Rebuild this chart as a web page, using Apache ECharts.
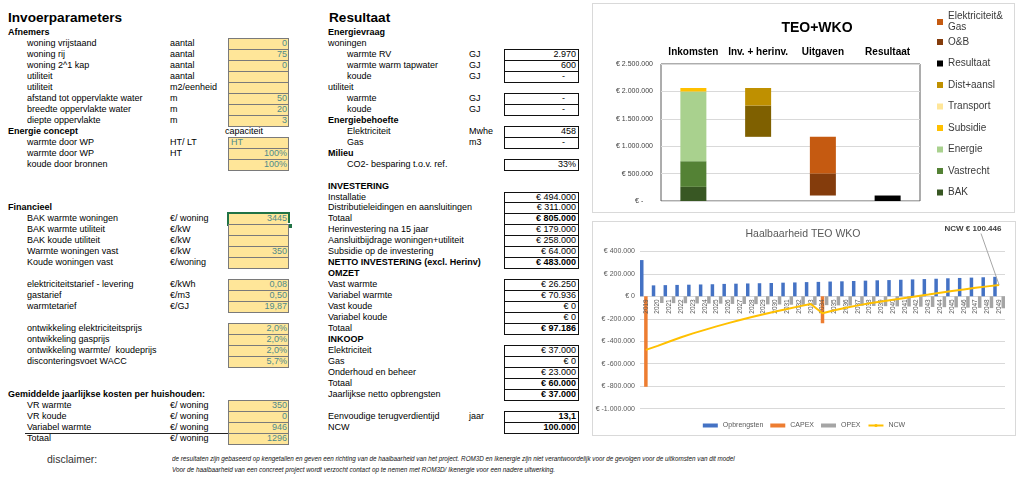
<!DOCTYPE html>
<html><head><meta charset="utf-8">
<script src="https://cdn.jsdelivr.net/npm/echarts@6/dist/echarts.min.js"></script>
<style>
html,body{margin:0;padding:0;background:#fff;}
body{width:1023px;height:488px;overflow:hidden;position:relative;font-family:'Liberation Sans',Arial,sans-serif;color:#000;}
.t{position:absolute;white-space:pre;font-size:9px;line-height:11px;height:11px;}
.b{font-weight:bold}
.box{position:absolute;box-sizing:border-box;border:1px solid #7a7a7a;}
.in{background:#FFE699;}
.res{background:#fff;border-color:#111;}
.v{position:absolute;white-space:pre;font-size:9px;line-height:11px;height:11px;text-align:right;}
.panel{position:absolute;box-sizing:border-box;border:1px solid #D9D9D9;background:#fff;}
.disc{position:absolute;white-space:pre;font-style:italic;font-size:7px;line-height:8px;height:8px;transform-origin:0 50%;color:#111;}
</style></head>
<body>
<div class="panel" style="left:592px;top:3px;width:423px;height:210px;"></div>
<div id="topChart" style="position:absolute;left:593px;top:4px;width:421px;height:208px;"></div>
<div class="panel" style="left:592px;top:221px;width:424px;height:215px;"></div>
<div id="botChart" style="position:absolute;left:593px;top:222px;width:422px;height:213px;"></div>
<script>
// ---------- Chart 1: TEO+WKO ----------
const topCats = ['Inkomsten', 'Inv. + herinv.', 'Uitgaven', 'Resultaat'];
const bak         = [258000, 0, 0, 0];
const vastrecht   = [468000, 0, 0, 0];
const energie     = [1272000, 0, 0, 0];
const subsidie    = [64000, 0, 0, 0];
const transport   = [0, 0, 0, 0];
const installatie = [0, 571000, 0, 0];
const distAansl   = [0, 320000, 0, 0];
const oenb        = [0, 0, 404000, 0];
const elekGas     = [0, 0, 667000, 0];
const resultaat   = [0, 0, 0, 100000];
const topTicks = [0, 500000, 1000000, 1500000, 2000000, 2500000];

// ---------- Chart 2: Haalbaarheid TEO WKO ----------
const years = ['2019','2020','2021','2022','2023','2024','2025','2026','2027','2028','2029','2030','2031','2032','2033','2034','2035','2036','2037','2038','2039','2040','2041','2042','2043','2044','2045','2046','2047','2048','2049'];
const opbrengsten = [322000, 97000, 99000, 101000, 103000, 105000, 107000, 110000, 112000, 114000, 116000, 118000, 121000, 123000, 126000, 128000, 131000, 133000, 136000, 139000, 142000, 144000, 147000, 150000, 153000, 156000, 160000, 163000, 166000, 169000, 173000];
const capex = [-805000, 0, 0, 0, 0, 0, 0, 0, 0, 0, 0, 0, 0, 0, 0, -240000, 0, 0, 0, 0, 0, 0, 0, 0, 0, 0, 0, 0, 0, 0, 0];
const opex = [0, -60000, -61000, -62000, -64000, -65000, -66000, -68000, -69000, -70000, -72000, -73000, -75000, -76000, -78000, -79000, -81000, -83000, -84000, -86000, -88000, -90000, -91000, -93000, -95000, -97000, -99000, -101000, -103000, -105000, -107000];
const ncw = [-477000, -441000, -402000, -364000, -330000, -299000, -268000, -239000, -211000, -185000, -160000, -136000, -113000, -90000, -68000, -151000, -125000, -102000, -81000, -63000, -46000, -30000, -15000, 0, 15000, 31000, 46000, 61000, 75000, 88000, 100446];
const botTicks = [-1000000, 400000, 200000]; // min, max, step

function dots(n){ return Math.round(Math.abs(n)).toString().replace(/\B(?=(\d{3})+(?!\d))/g, '.'); }
function euro(v){ return '€ ' + (v < 0 ? '-' : '') + dots(v); }

// ---------- spreadsheet text ----------
const ROW0 = 32.3, RH = 10.98;
function yc(r){ return ROW0 + RH * r; }
function addText(x, y, s, cls, style){
  const d = document.createElement('div');
  d.className = cls || 't';
  d.textContent = s;
  d.style.left = x + 'px';
  d.style.top = (y - 5.5) + 'px';
  if (style) Object.assign(d.style, style);
  document.body.appendChild(d);
  return d;
}
function addBox(x, w, r, cls, extra){
  const d = document.createElement('div');
  d.className = 'box ' + cls;
  d.style.left = x + 'px';
  d.style.width = w + 'px';
  d.style.top = (yc(r) - 5.5) + 'px';
  d.style.height = (RH + 1) + 'px';
  if (extra) Object.assign(d.style, extra);
  document.body.appendChild(d);
  return d;
}
function addVal(xRight, r, s, style){
  const d = document.createElement('div');
  d.className = 'v';
  d.textContent = s;
  d.style.right = (1023 - xRight) + 'px';
  d.style.top = (yc(r) - 5.5) + 'px';
  if (style) Object.assign(d.style, style);
  document.body.appendChild(d);
  return d;
}

addText(8, 18, 'Invoerparameters', 't b', {fontSize:'13.6px', lineHeight:'16px', height:'16px', top:'10px'});
addText(329, 18, 'Resultaat', 't b', {fontSize:'13.6px', lineHeight:'16px', height:'16px', top:'10px'});

const leftRows = [
  [0,'Afnemers','',null,'h'],
  [1,'woning vrijstaand','aantal','0'],
  [2,'woning rij','aantal','75'],
  [3,'woning 2^1 kap','aantal','0'],
  [4,'utiliteit','aantal',''],
  [5,'utiliteit','m2/eenheid',''],
  [6,'afstand tot oppervlakte water','m','50'],
  [7,'breedte oppervlakte water','m','20'],
  [8,'diepte oppervlakte','m','3'],
  [9,'Energie concept','',null,'h'],
  [10,'warmte door WP','HT/ LT','HT','left'],
  [11,'warmte door WP','HT','100%'],
  [12,'koude door bronnen','','100%'],
  [16,'Financieel','',null,'h'],
  [17,'BAK warmte woningen','€/ woning','3445','sel'],
  [18,'BAK warmte utiliteit','€/kW',''],
  [19,'BAK koude utiliteit','€/kW',''],
  [20,'Warmte woningen vast','€/kW','350'],
  [21,'Koude woningen vast','€/woning',''],
  [23,'elektriciteitstarief - levering','€/kWh','0,08'],
  [24,'gastarief','€/m3','0,50'],
  [25,'warmtetarief','€/GJ','19,87'],
  [27,'ontwikkeling elektriciteitsprijs','','2,0%'],
  [28,'ontwikkeling gasprijs','','2,0%'],
  [29,'ontwikkeling warmte/  koudeprijs','','2,0%'],
  [30,'disconteringsvoet WACC','','5,7%'],
  [33,'Gemiddelde jaarlijkse kosten per huishouden:','',null,'h'],
  [34,'VR warmte','€/ woning','350'],
  [35,'VR koude','€/ woning','0'],
  [36,'Variabel warmte','€/ woning','946'],
  [37,'Totaal','€/ woning','1296']
];
const inCol = '#4F8A8B';
leftRows.forEach(([r, label, unit, val, opt]) => {
  const y = yc(r);
  if (opt === 'h') { addText(8, y, label, 't b'); return; }
  addText(27, y, label);
  if (unit) addText(170, y, unit);
  if (val !== null) {
    addBox(228, 61, r, 'in');
    if (opt === 'left') addText(231, y, val, 't', {color: inCol});
    else if (val !== '') addVal(287, r, val, {color: inCol});
  }
  if (opt === 'sel') {
    addBox(227, 63, r, '', {border:'2px solid #217346', background:'transparent', height:(RH+3)+'px', top:(yc(r)-6.5)+'px'});
    const h = document.createElement('div');
    Object.assign(h.style, {position:'absolute', left:'287px', top:(yc(r)+4.5)+'px', width:'4px', height:'4px', background:'#217346', border:'1px solid #fff'});
    document.body.appendChild(h);
  }
});
addText(225, yc(9), 'capaciteit');
// underline above "Totaal"
(function(){ const l = document.createElement('div'); Object.assign(l.style,{position:'absolute',left:'25px',width:'203px',top:(yc(36.5)-0.5)+'px',height:'1px',background:'#222'}); document.body.appendChild(l); })();

const midRows = [
  [0,'Energievraag','',null,'h'],
  [1,'woningen','',null,'n'],
  [2,'warmte RV','GJ','2.970','i'],
  [3,'warmte warm tapwater','GJ','600','i'],
  [4,'koude','GJ','-','i'],
  [5,'utiliteit','',null,'n'],
  [6,'warmte','GJ','-','i'],
  [7,'koude','GJ','-','i'],
  [8,'Energiebehoefte','',null,'h'],
  [9,'Elektriciteit','Mwhe','458','i'],
  [10,'Gas','m3','-','i'],
  [11,'Milieu','',null,'h'],
  [12,'CO2- besparing t.o.v. ref.','','33%','i'],
  [14,'INVESTERING','',null,'h'],
  [15,'Installatie','','€ 494.000','n'],
  [16,'Distributieleidingen en aansluitingen','','€ 311.000','n'],
  [17,'Totaal','','€ 805.000','nb'],
  [18,'Herinvestering na 15 jaar','','€ 179.000','n'],
  [19,'Aansluitbijdrage woningen+utiliteit','','€ 258.000','n'],
  [20,'Subsidie op de investering','','€ 64.000','n'],
  [21,'NETTO INVESTERING (excl. Herinv)','','€ 483.000','hb'],
  [22,'OMZET','',null,'h'],
  [23,'Vast warmte','','€ 26.250','n'],
  [24,'Variabel warmte','','€ 70.936','n'],
  [25,'Vast koude','','€ 0','n'],
  [26,'Variabel koude','','€ 0','n'],
  [27,'Totaal','','€ 97.186','nb'],
  [28,'INKOOP','',null,'h'],
  [29,'Elektriciteit','','€ 37.000','n'],
  [30,'Gas','','€ 0','n'],
  [31,'Onderhoud en beheer','','€ 23.000','n'],
  [32,'Totaal','','€ 60.000','nb'],
  [33,'Jaarlijkse netto opbrengsten','','€ 37.000','nb'],
  [35,'Eenvoudige terugverdientijd','jaar','13,1','nb'],
  [36,'NCW','','100.000','nb']
];
midRows.forEach(([r, label, unit, val, opt]) => {
  const y = yc(r);
  if (opt === 'h') { addText(328, y, label, 't b'); return; }
  const x = (opt === 'i') ? 347 : 328;
  addText(x, y, label, opt === 'hb' ? 't b' : 't');
  if (unit) addText(469, y, unit);
  if (val !== null) {
    addBox(504, 75, r, 'res');
    const bold = (opt === 'nb' || opt === 'hb');
    if (val === '-') addVal(565, r, '-');
    else addVal(576, r, val, bold ? {fontWeight:'bold'} : null);
  }
});

addText(47, 459, 'disclaimer:', 't', {fontSize:'10.5px', lineHeight:'12px', height:'12px', top:'453px', color:'#333'});
const d1 = addText(172, 459, 'de resultaten zijn gebaseerd op kengetallen en geven een richting van de haalbaarheid van het project. ROM3D en Ikenergie zijn niet verantwoordelijk voor de gevolgen voor de uitkomsten van dit model', 'disc', {top:'455px'});
const d2 = addText(172, 469.5, 'Voor de haalbaarheid van een concreet project wordt verzocht contact op te nemen met ROM3D/ Ikenergie voor een nadere uitwerking.', 'disc', {top:'465.5px'});
d1.style.transform = 'scaleX(' + (563 / d1.offsetWidth) + ')';
d2.style.transform = 'scaleX(' + (383 / d2.offsetWidth) + ')';

// ---------- build chart 1 ----------
const incomeTotal = bak[0] + vastrecht[0] + energie[0] + subsidie[0] + transport[0];
const invBase = incomeTotal - installatie[1] - distAansl[1];
const uitBase = invBase - oenb[2] - elekGas[2];
const base = [0, invBase, uitBase, 0];

const topChart = echarts.init(document.getElementById('topChart'));
function bar(name, data, color){
  return {name, type:'bar', stack:'w', data, barWidth:26, itemStyle:{color}, emphasis:{disabled:true}};
}
topChart.setOption({
  animation:false,
  title:{text:'TEO+WKO', left:224, textAlign:'center', top:17, padding:0,
    textStyle:{fontSize:14, fontWeight:'bold', color:'#000', fontFamily:'Liberation Sans'}},
  grid:{left:68, right:94, top:60, bottom:11, show:true, borderColor:'#5a5a5a', borderWidth:1, backgroundColor:'transparent', outerBoundsMode:'none'},
  legend:[
    {orient:'vertical', left:344, top:7, padding:0, icon:'rect', itemWidth:6, itemHeight:6,
     data:['Elektriciteit& Gas'], formatter:()=> 'Elektriciteit&\nGas',
     textStyle:{fontSize:10, color:'#3a3a3a', lineHeight:11, fontFamily:'Liberation Sans'}, selectedMode:false},
    {orient:'vertical', left:344, top:32, padding:0, icon:'rect', itemWidth:6, itemHeight:6, itemGap:9.5,
     data:['O&B','Resultaat','Dist+aansl','Transport','Subsidie','Energie','Vastrecht','BAK'],
     textStyle:{fontSize:10, color:'#3a3a3a', lineHeight:12, fontFamily:'Liberation Sans'}, selectedMode:false}
  ],
  xAxis:{type:'category', data:topCats, position:'top', axisLine:{show:false}, axisTick:{show:false},
    axisLabel:{fontSize:10, fontWeight:'bold', color:'#000', margin:7, interval:0, fontFamily:'Liberation Sans'}},
  yAxis:{type:'value', min:topTicks[0], max:topTicks[topTicks.length-1], interval:topTicks[1]-topTicks[0],
    axisLine:{show:false}, axisTick:{show:false},
    splitLine:{lineStyle:{color:'#D9D9D9', width:1}},
    axisLabel:{fontSize:7, color:'#404040', margin:8, fontFamily:'Liberation Sans',
      formatter:v => v === 0 ? '€ -     ' : euro(v)}},
  series:[
    {name:'base', type:'bar', stack:'w', data:base, barWidth:26, itemStyle:{color:'rgba(0,0,0,0)'}, silent:true},
    bar('BAK', bak, '#385723'),
    bar('Vastrecht', vastrecht, '#548235'),
    bar('Energie', energie, '#A9D18E'),
    bar('Subsidie', subsidie, '#FFC000'),
    bar('Transport', transport, '#FFE699'),
    bar('Installatie', installatie, '#7F6000'),
    bar('Dist+aansl', distAansl, '#BF9000'),
    bar('O&B', oenb, '#843C0C'),
    bar('Elektriciteit& Gas', elekGas, '#C55A11'),
    bar('Resultaat', resultaat, '#000000')
  ]
});

// ---------- build chart 2 ----------
const botChart = echarts.init(document.getElementById('botChart'));
const GRID_BOTTOM = 26.3;
botChart.setOption({
  animation:false,
  title:{text:'Haalbaarheid TEO WKO', left:210, textAlign:'center', top:7, padding:0,
    textStyle:{fontSize:10.5, fontWeight:'normal', color:'#595959', fontFamily:'Liberation Sans'}},
  grid:{left:47, right:10, top:29.3, bottom:GRID_BOTTOM, outerBoundsMode:'none'},
  legend:{bottom:6, left:'center', padding:0, itemGap:7, itemWidth:15, itemHeight:4,
    data:[{name:'Opbrengsten', icon:'rect'},{name:'CAPEX', icon:'rect'},{name:'OPEX', icon:'rect'},{name:'NCW'}],
    textStyle:{fontSize:7, color:'#595959', fontFamily:'Liberation Sans'}, selectedMode:false},
  xAxis:{type:'category', data:years, z:4,
    axisLine:{show:false, onZero:false}, axisTick:{show:false},
    axisLabel:{rotate:90, fontSize:6.5, color:'#595959', margin:3, interval:0, fontFamily:'Liberation Sans'}},
  yAxis:{type:'value', min:botTicks[0], max:botTicks[1], interval:botTicks[2],
    axisLine:{show:false}, axisTick:{show:false},
    splitLine:{lineStyle:{color:'#D9D9D9', width:1}},
    axisLabel:{fontSize:7, color:'#595959', margin:5, fontFamily:'Liberation Sans',
      formatter:v => v === 0 ? '€ 0' : euro(v)}},
  series:[
    {name:'Opbrengsten', type:'bar', data:opbrengsten, barWidth:3.5, barGap:'18%', itemStyle:{color:'#4472C4'}},
    {name:'CAPEX', type:'bar', data:capex, barWidth:3.5, barGap:'18%', itemStyle:{color:'#ED7D31'}},
    {name:'OPEX', type:'bar', data:opex, barWidth:3.5, barGap:'18%', itemStyle:{color:'#A5A5A5'}},
    {name:'NCW', type:'line', data:ncw, symbol:'none', z:5, lineStyle:{color:'#FFC000', width:2}, itemStyle:{color:'#FFC000'}}
  ]
});
// move the category labels onto the zero line of the value scale
(function(){
  const y0 = botChart.convertToPixel({yAxisIndex:0}, 0);
  const gridBottomY = botChart.getHeight() - GRID_BOTTOM;
  botChart.setOption({xAxis:{offset: y0 - gridBottomY}});
  // NCW data label with leader line, anchored to the last NCW point via the chart's scales
  const last = ncw.length - 1;
  const pt = botChart.convertToPixel({xAxisIndex:0, yAxisIndex:0}, [years[last], ncw[last]]);
  const lx = 380, ly = 6.5;
  botChart.setOption({graphic:[
    {type:'line', shape:{x1:lx + 8, y1:ly + 5, x2:pt[0], y2:pt[1]}, style:{stroke:'#A6A6A6', lineWidth:1}, z:10},
    {type:'text', x:lx, y:ly, style:{text:'NCW ' + euro(ncw[last]), fontSize:8, fontWeight:'bold', fill:'#404040',
      align:'center', verticalAlign:'middle', fontFamily:'Liberation Sans'}, z:10}
  ]});
})();
</script>
</body></html>
